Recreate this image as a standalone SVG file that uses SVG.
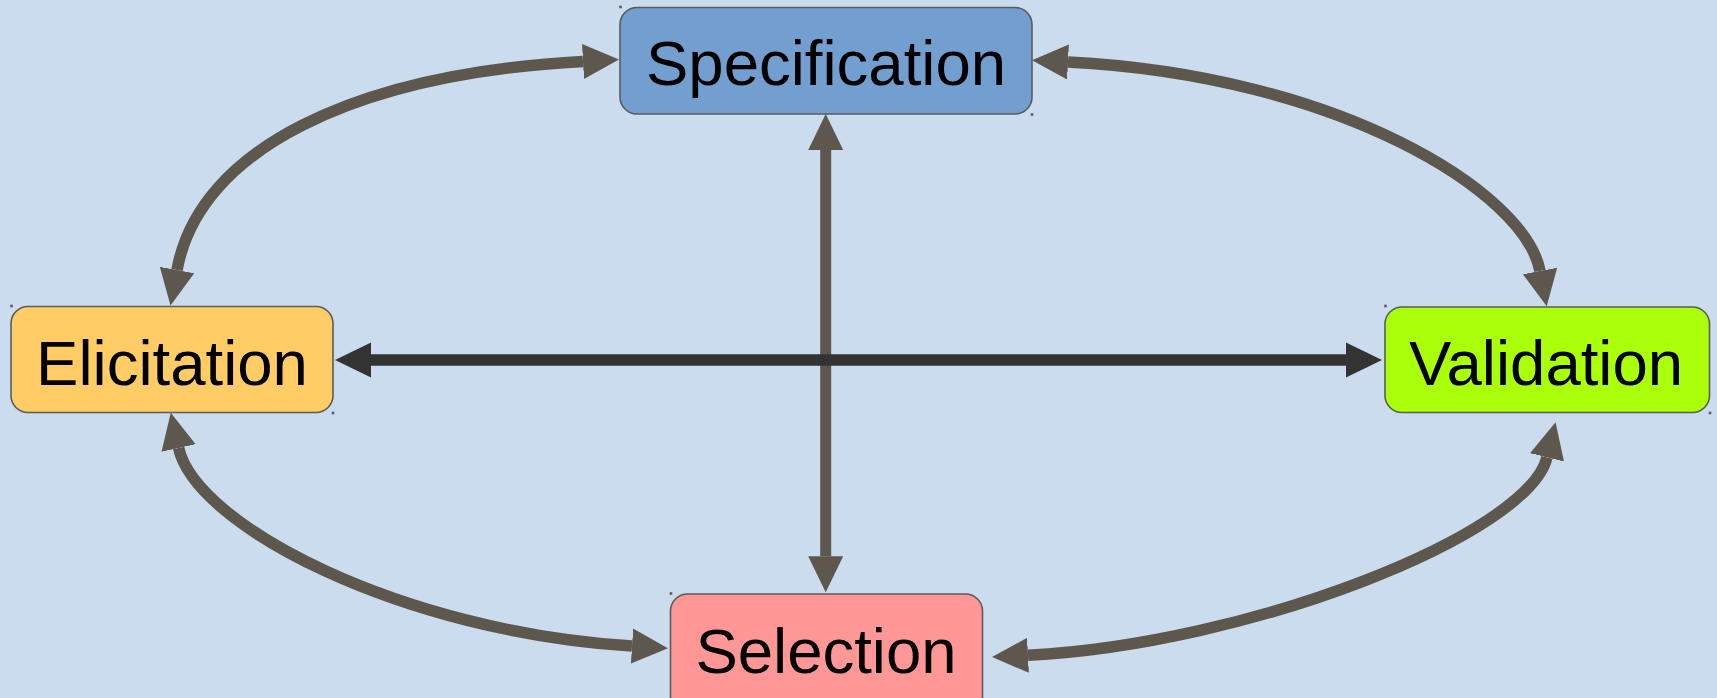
<svg xmlns="http://www.w3.org/2000/svg" width="1717" height="698" viewBox="0 0 1717 698">
  <defs>
    <style>
      .node rect { stroke: #5b5b5b; stroke-width: 1.6; }
      .node text { font-family: "Liberation Sans", Arial, sans-serif; font-size: 63.5px; fill: #000; text-anchor: middle; }
      .dot { fill: #7a7a7a; stroke: none; }
      .link { fill: none; stroke: #5e574d; stroke-width: 11.5; }
      .link.axis { stroke-width: 11; }
      .link.main { stroke: #333333; stroke-width: 11.5; }
    </style>
    <marker id="head" markerUnits="userSpaceOnUse" markerWidth="40" markerHeight="40" viewBox="0 -20 40 40" refX="0" refY="0" orient="auto-start-reverse">
      <path d="M0,-17.5 L36,0 L0,17.5 Z" fill="#5e574d"/>
    </marker>
    <marker id="head-dark" markerUnits="userSpaceOnUse" markerWidth="40" markerHeight="40" viewBox="0 -20 40 40" refX="0" refY="0" orient="auto-start-reverse">
      <path d="M0,-17.5 L36,0 L0,17.5 Z" fill="#333333"/>
    </marker>
  </defs>

  <rect x="0" y="0" width="1717" height="698" fill="#cadcee"/>

  <g id="connectors">
    <!-- curved cycle links -->
    <path class="link" d="M583,61.5 C353,74 199,150 177,270" marker-start="url(#head)" marker-end="url(#head)"/>
    <path class="link" d="M1068,62 C1338,75.5 1525,192 1540,271" marker-start="url(#head)" marker-end="url(#head)"/>
    <path class="link" d="M178.6,448 C196,526 402,632 632,646" marker-start="url(#head)" marker-end="url(#head)"/>
    <path class="link" d="M1028,655.3 C1248,644.3 1528,535 1547,457.3" marker-start="url(#head)" marker-end="url(#head)"/>
    <!-- straight cross links -->
    <path class="link axis" d="M825.7,150 L825.7,556.3" marker-start="url(#head)" marker-end="url(#head)"/>
    <path class="link main" d="M371,360 L1346,360" marker-start="url(#head-dark)" marker-end="url(#head-dark)"/>
  </g>

  <g id="node-specification" class="node">
    <rect x="620" y="7.5" width="412" height="106.5" rx="17" fill="#729fcf"/>
    <text x="826" y="85">Specification</text>
    <rect class="dot" x="620" y="6.5" width="1" height="1"/>
    <rect class="dot" x="1031.5" y="114" width="1" height="1"/>
  </g>

  <g id="node-elicitation" class="node">
    <rect x="11" y="306.5" width="322" height="106" rx="17" fill="#ffcc66"/>
    <text x="172" y="385">Elicitation</text>
    <rect class="dot" x="11" y="305.5" width="1" height="1"/>
    <rect class="dot" x="332.5" y="412.5" width="1" height="1"/>
  </g>

  <g id="node-validation" class="node">
    <rect x="1385" y="307" width="324.5" height="105.5" rx="17" fill="#aaff0a"/>
    <text x="1546" y="385">Validation</text>
    <rect class="dot" x="1385" y="305.5" width="1" height="1"/>
    <rect class="dot" x="1709.5" y="412.5" width="1" height="1"/>
  </g>

  <g id="node-selection" class="node">
    <rect x="670.5" y="594" width="312" height="120" rx="17" fill="#ff9797"/>
    <text x="826" y="673">Selection</text>
    <rect class="dot" x="670.5" y="593" width="1" height="1"/>
  </g>
</svg>
